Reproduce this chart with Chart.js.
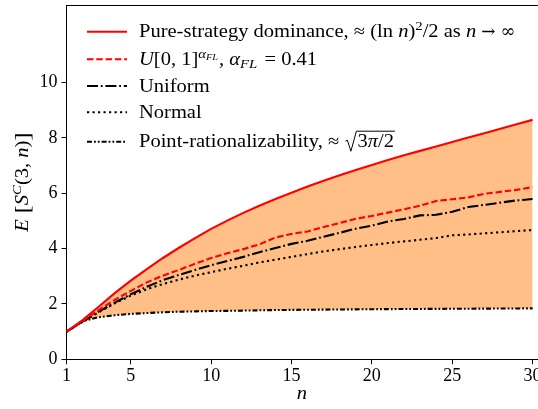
<!DOCTYPE html>
<html lang="en">
<head>
    <meta charset="UTF-8">
    <title>E[S^C(3,n)]</title>
    <script src="https://cdn.jsdelivr.net/npm/chart.js"></script>
    <style>
        body { margin: 0; background: #fff; }
        #wrap { width: 538px; height: 409px; overflow: hidden; }
    </style>
</head>
<body>
    <div id="wrap"><canvas id="myChart" width="545" height="409"></canvas></div>

    <script>
        const nValues = [1, 2, 3, 4, 5, 6, 7, 8, 9, 10, 11, 12, 13, 14, 15, 16, 17, 18, 19, 20, 21, 22, 23, 24, 25, 26, 27, 28, 29, 30];
        const pureDominance = [1.00, 1.42, 1.90, 2.39, 2.84, 3.26, 3.66, 4.03, 4.38, 4.71, 5.01, 5.29, 5.55, 5.79, 6.02, 6.24, 6.45, 6.65, 6.84, 7.02, 7.20, 7.37, 7.53, 7.69, 7.85, 8.01, 8.17, 8.33, 8.49, 8.65];
        const uPowerAlpha = [1.00, 1.38, 1.78, 2.15, 2.47, 2.78, 3.02, 3.23, 3.45, 3.66, 3.83, 3.98, 4.15, 4.40, 4.53, 4.62, 4.78, 4.92, 5.08, 5.18, 5.30, 5.42, 5.55, 5.72, 5.78, 5.85, 5.98, 6.05, 6.12, 6.22];
        const uniform = [1.00, 1.36, 1.72, 2.05, 2.35, 2.62, 2.86, 3.05, 3.23, 3.40, 3.55, 3.70, 3.87, 4.02, 4.17, 4.28, 4.43, 4.57, 4.72, 4.83, 4.98, 5.07, 5.20, 5.22, 5.33, 5.50, 5.58, 5.66, 5.74, 5.79];
        const normal = [1.00, 1.35, 1.70, 2.02, 2.30, 2.53, 2.72, 2.88, 3.02, 3.15, 3.27, 3.38, 3.50, 3.60, 3.70, 3.80, 3.90, 3.98, 4.06, 4.13, 4.20, 4.26, 4.32, 4.38, 4.48, 4.51, 4.55, 4.59, 4.63, 4.67];
        const pointRational = [1.00, 1.38, 1.52, 1.59, 1.64, 1.67, 1.70, 1.72, 1.73, 1.745, 1.75, 1.76, 1.77, 1.78, 1.785, 1.79, 1.795, 1.80, 1.805, 1.81, 1.813, 1.816, 1.819, 1.822, 1.825, 1.828, 1.831, 1.834, 1.837, 1.84];
        const xTicks = [1, 5, 10, 15, 20, 25, 30];
        const yTicks = [0, 2, 4, 6, 8, 10];

        const FONT = '"Liberation Serif", "DejaVu Serif", serif';
        const SX = 1.14; // computer-modern text is wider than Times

        function pts(arr) {
            return nValues.map((n, i) => ({ x: n, y: arr[i] }));
        }

        // draws a row of text pieces with their own style / offset
        function drawRuns(ctx, x, y, runs, measureOnly) {
            for (const r of runs) {
                ctx.font = (r.it ? 'italic ' : '') + (r.size || 18) + 'px ' + (r.fam || FONT);
                const sx = r.fam ? 1 : SX;
                if (!measureOnly) {
                    ctx.save();
                    ctx.translate(x, y + (r.dy || 0));
                    ctx.scale(sx, 1);
                    ctx.fillText(r.t, 0, 0);
                    ctx.restore();
                }
                x += ctx.measureText(r.t).width * sx + (r.sp || 0);
            }
            return x;
        }

        const legendRows = [
            { y: 31.7, color: '#ff0000', dash: [],
              runs: [{ t: 'Pure-strategy dominance, \u2248 (ln ' }, { t: 'n', it: true }, { t: ')' }, { t: '2', size: 13, dy: -7 },
                     { t: '/2 as ' }, { t: 'n', it: true, sp: 5 }, { t: '\u2192', fam: '"DejaVu Serif"', size: 17, sp: 5 },
                     { t: '\u221e', fam: '"DejaVu Serif"', size: 18 }] },
            { y: 59.3, color: '#ff0000', dash: [6.5, 2.8],
              runs: [{ t: 'U', it: true }, { t: '[0, 1]' }, { t: '\u03b1', it: true, size: 13, dy: -7 }, { t: 'FL', it: true, size: 9, dy: -5, sp: 1 },
                     { t: ', ' }, { t: '\u03b1', it: true }, { t: 'FL', it: true, size: 13, dy: 3, sp: 2 }, { t: ' = 0.41' }] },
            { y: 86, color: '#000', dash: [11, 2.8, 1.8, 2.8], runs: [{ t: 'Uniform' }] },
            { y: 112.3, color: '#000', dash: [2.2, 3.3], runs: [{ t: 'Normal' }] },
            { y: 141.7, color: '#000', dash: [5, 2, 1.8, 2, 1.8, 2],
              runs: [{ t: 'Point-rationalizability, \u2248 ' }], sqrt: true }
        ];

        const decorations = {
            id: 'decorations',
            afterDraw(chart) {
                const ctx = chart.ctx;
                const a = chart.chartArea;
                ctx.save();
                // top spine
                ctx.strokeStyle = '#000';
                ctx.lineWidth = 1;
                ctx.beginPath();
                ctx.moveTo(a.left, a.top + 0.5);
                ctx.lineTo(a.right, a.top + 0.5);
                ctx.stroke();

                // legend
                ctx.fillStyle = '#000';
                ctx.textBaseline = 'alphabetic';
                for (const row of legendRows) {
                    ctx.strokeStyle = row.color;
                    ctx.lineWidth = 2.1;
                    ctx.setLineDash(row.dash);
                    ctx.beginPath();
                    ctx.moveTo(87, row.y);
                    ctx.lineTo(127, row.y);
                    ctx.stroke();
                    ctx.setLineDash([]);
                    let x = drawRuns(ctx, 139, row.y + 5.5, row.runs);
                    if (row.sqrt) {
                        const b = row.y + 5.5;
                        const x0 = x + 1;
                        const tx = x0 + 12;
                        const end = drawRuns(ctx, tx, b, [{ t: '3' }, { t: '\u03c0', it: true }, { t: '/2' }]);
                        ctx.strokeStyle = '#000';
                        ctx.lineWidth = 1;
                        ctx.beginPath();
                        ctx.moveTo(x0, b - 6);
                        ctx.lineTo(x0 + 2, b - 7);
                        ctx.lineTo(x0 + 5.5, b + 4);
                        ctx.lineTo(x0 + 11, b - 16);
                        ctx.lineTo(end + 1, b - 16);
                        ctx.stroke();
                    }
                }

                // axis labels
                drawRuns(ctx, (a.left + a.right) / 2 - 6, 399, [{ t: 'n', it: true }]);

                const yRuns = [{ t: 'E', it: true }, { t: ' [', size: 21, dy: 1 }, { t: 'S', it: true }, { t: 'C', it: true, size: 13, dy: -7 },
                               { t: '(3, ' }, { t: 'n', it: true }, { t: ')' }, { t: ']', size: 21, dy: 1 }];
                const w = drawRuns(ctx, 0, 0, yRuns, true);
                ctx.translate(28, (a.top + a.bottom) / 2);
                ctx.rotate(-Math.PI / 2);
                drawRuns(ctx, -w / 2, 0, yRuns);
                ctx.restore();
            }
        };

        function lineSet(label, arr, color, dash, extra) {
            return Object.assign({
                label: label,
                data: pts(arr),
                borderColor: color,
                borderWidth: 2.1,
                borderDash: dash,
                borderCapStyle: 'butt',
                pointRadius: 0,
                tension: 0,
                fill: false
            }, extra || {});
        }

        const ctx = document.getElementById('myChart').getContext('2d');
        const chart = new Chart(ctx, {
            type: 'line',
            data: {
                datasets: [
                    lineSet('Pure-strategy dominance', pureDominance, '#ff0000', [],
                        { fill: { target: 4 }, backgroundColor: 'rgba(255, 127, 14, 0.5)' }),
                    lineSet('U[0,1]^alpha', uPowerAlpha, '#ff0000', [6.5, 2.8]),
                    lineSet('Uniform', uniform, '#000000', [11, 2.8, 1.8, 2.8]),
                    lineSet('Normal', normal, '#000000', [2.2, 3.3]),
                    lineSet('Point-rationalizability', pointRational, '#000000', [5, 2, 1.8, 2, 1.8, 2])
                ]
            },
            options: {
                responsive: false,
                animation: false,
                layout: { padding: { top: 5, right: 6, left: 0, bottom: 0 } },
                plugins: {
                    legend: { display: false },
                    tooltip: { enabled: false },
                    filler: { drawTime: 'beforeDatasetsDraw' }
                },
                scales: {
                    x: {
                        type: 'linear',
                        min: 1,
                        max: 30.4,
                        afterBuildTicks: s => { s.ticks = xTicks.map(v => ({ value: v })); },
                        afterFit: s => { s.height = 49.7; s.paddingLeft = 0; s.paddingRight = 0; },
                        grid: { display: true, drawOnChartArea: false, drawTicks: true, tickLength: 5, color: '#000' },
                        border: { display: true, color: '#000', width: 1 },
                        ticks: { color: '#000', font: { family: FONT, size: 18 }, padding: 1, maxRotation: 0, autoSkip: false }
                    },
                    y: {
                        min: 0,
                        max: 12.8,
                        afterBuildTicks: s => { s.ticks = yTicks.map(v => ({ value: v })); },
                        afterFit: s => { s.width = 66.5; s.paddingTop = 0; s.paddingBottom = 0; },
                        grid: { display: true, drawOnChartArea: false, drawTicks: true, tickLength: 5, color: '#000' },
                        border: { display: true, color: '#000', width: 1 },
                        ticks: { color: '#000', font: { family: FONT, size: 18 }, padding: 4, autoSkip: false }
                    }
                }
            },
            plugins: [decorations]
        });
    </script>
</body>
</html>
